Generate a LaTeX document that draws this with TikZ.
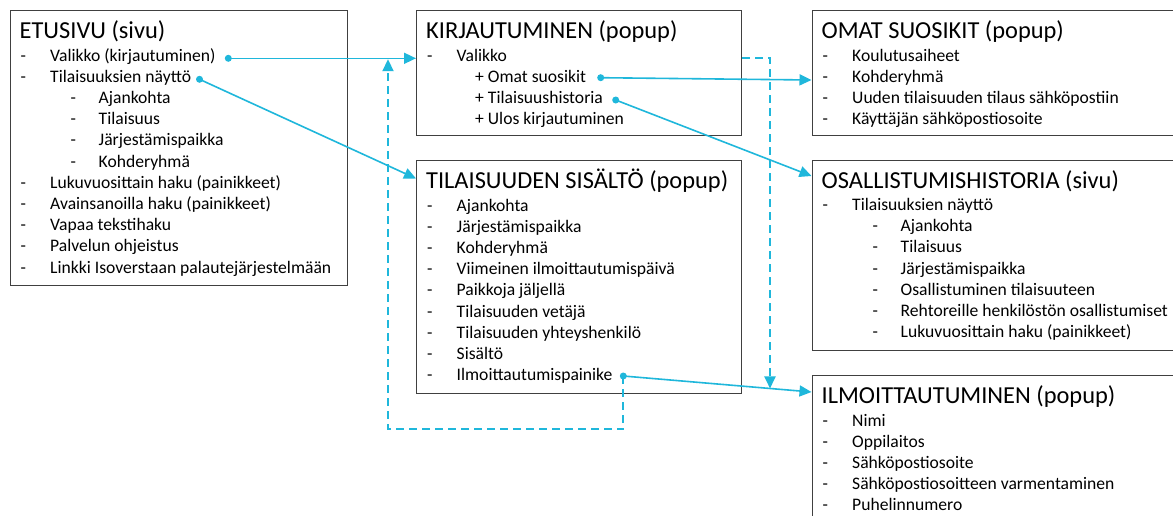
\documentclass[tikz,border=0pt]{standalone}
\usepackage{fontspec}
\setmainfont{Carlito}
\usetikzlibrary{arrows.meta,calc}
\definecolor{linkcyan}{RGB}{31,183,219}
\definecolor{framegray}{RGB}{64,64,64}
\tikzset{
  panel/.style={draw=framegray, line width=1.1pt, rectangle, inner sep=0pt, anchor=north west},
  titletext/.style={inner sep=0pt, anchor=base west, font=\fontsize{24.4}{28}\selectfont},
  itemtext/.style={inner sep=0pt, anchor=base west, font=\fontsize{17.6}{21}\selectfont},
  linkdot/.style={circle, fill=linkcyan, inner sep=0pt, minimum size=7pt},
  linktip/.style={-{Triangle[length=12pt,width=11pt,fill=linkcyan,color=linkcyan]}},
  link/.style={draw=linkcyan, line width=1.6pt, linktip},
  dashlink/.style={color=linkcyan, line width=1.9pt, line cap=butt, dash pattern=on 8pt off 5pt, linktip},
}
% #1 name prefix, #2 left, #3 top, #4 heading, #5 level/text list
% level 1: "-" bullet, level 2: indented "-" bullet, level 3: "+" entry
\newcommand\listpanel[5]{%
  \node[titletext] (#1-t) at ({#2+10},{#3+28.5}) {#4};
  \foreach \lv/\txt [count=\k from 0] in {#5} {
    \pgfmathsetmacro\yy{#3+51+21.2*\k}
    \ifcase\lv
    \or
      \node[itemtext] (#1-m\k) at ({#2+11},\yy) {-};
      \node[itemtext] (#1-\k) at ({#2+40.5},\yy) {\txt};
    \or
      \node[itemtext] (#1-m\k) at ({#2+61},\yy) {-};
      \node[itemtext] (#1-\k) at ({#2+89},\yy) {\txt};
    \or
      \node[itemtext] (#1-\k) at ({#2+59},\yy) {+ \txt};
    \fi
  }
}
\begin{document}
\begin{tikzpicture}[x=1pt,y=-1pt]
\useasboundingbox (0,0) rectangle (1173,515);
\fill[white] (0,0) rectangle (1173,515);
\clip (0,0) rectangle (1173,515);

% page and popup panels
\node[panel, minimum width=337pt, minimum height=275pt] (etusivu) at (9.5,10) {};
\node[panel, minimum width=325pt, minimum height=125pt] (kirj) at (416,10) {};
\node[panel, minimum width=325pt, minimum height=232.5pt] (tilais) at (416,160) {};
\node[panel, minimum width=400pt, minimum height=125pt] (omat) at (811.5,10) {};
\node[panel, minimum width=400pt, minimum height=190pt] (osall) at (811.5,159.5) {};
\node[panel, minimum width=400pt, minimum height=160pt] (ilmo) at (811.5,375) {};

\listpanel{et}{9.5}{10}{ETUSIVU (sivu)}{1/Valikko (kirjautuminen), 1/Tilaisuuksien näyttö, 2/Ajankohta, 2/Tilaisuus, 2/Järjestämispaikka, 2/Kohderyhmä, 1/Lukuvuosittain haku (painikkeet), 1/Avainsanoilla haku (painikkeet), 1/Vapaa tekstihaku, 1/Palvelun ohjeistus, 1/Linkki Isoverstaan palautejärjestelmään}
\listpanel{ki}{416}{10}{KIRJAUTUMINEN (popup)}{1/Valikko, 3/Omat suosikit, 3/Tilaisuushistoria, 3/Ulos kirjautuminen}
\listpanel{ti}{416}{160}{TILAISUUDEN SISÄLTÖ (popup)}{1/Ajankohta, 1/Järjestämispaikka, 1/Kohderyhmä, 1/Viimeinen ilmoittautumispäivä, 1/Paikkoja jäljellä, 1/Tilaisuuden vetäjä, 1/Tilaisuuden yhteyshenkilö, 1/Sisältö, 1/Ilmoittautumispainike}
\listpanel{om}{811.5}{10}{OMAT SUOSIKIT (popup)}{1/Koulutusaiheet, 1/Kohderyhmä, 1/Uuden tilaisuuden tilaus sähköpostiin, 1/Käyttäjän sähköpostiosoite}
\listpanel{os}{811.5}{159.5}{OSALLISTUMISHISTORIA (sivu)}{1/Tilaisuuksien näyttö, 2/Ajankohta, 2/Tilaisuus, 2/Järjestämispaikka, 2/Osallistuminen tilaisuuteen, 2/Rehtoreille henkilöstön osallistumiset, 2/Lukuvuosittain haku (painikkeet)}
\listpanel{il}{811.5}{375}{ILMOITTAUTUMINEN (popup)}{1/Nimi, 1/Oppilaitos, 1/Sähköpostiosoite, 1/Sähköpostiosoitteen varmentaminen, 1/Puhelinnumero}

% link start points
\node[linkdot] (pA) at (228.3,58.3) {};
\node[linkdot] (pB) at (199.5,79.3) {};
\node[linkdot] (pC) at (600.7,77.7) {};
\node[linkdot] (pD) at (615.7,100) {};
\node[linkdot] (pE) at (623.3,376) {};

\coordinate (ilmoIn) at ($(ilmo.north west)+(0,17)$);
\coordinate (meet) at ($(pE)!0.7795!(ilmoIn)$);
\coordinate (loopB) at (623.3,429.3);
\coordinate (loopEnd) at (388,59.2);

% return / alternative routes (dashed)
\draw[dashlink] (kirj.east |- pA) -| (meet);
\draw[dashlink] (pE.center) -- (loopB) -| (loopEnd);

% navigation links
\draw[link] (pA.center) -- (pA -| kirj.west);
\draw[link] (pB.center) -- ($(tilais.north west)+(0,18.5)$);
\draw[link] (pC.center) -- ($(omat.north west)+(0,70)$);
\draw[link] (pD.center) -- ($(osall.north west)+(0,16.5)$);
\draw[link] (pE.center) -- (ilmoIn);
\end{tikzpicture}
\end{document}
